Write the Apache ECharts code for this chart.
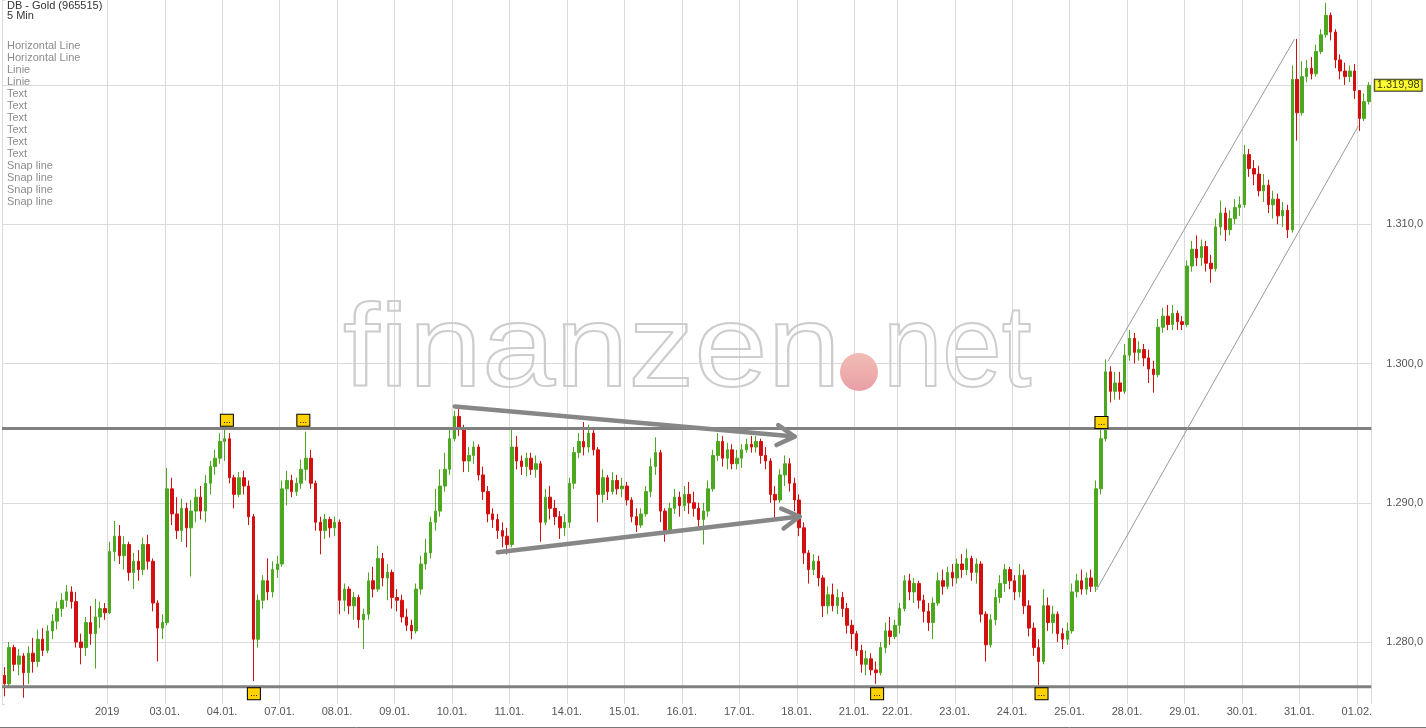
<!DOCTYPE html>
<html><head><meta charset="utf-8">
<script src="https://cdn.jsdelivr.net/npm/echarts@6.0.0/dist/echarts.min.js"></script>
<style>html,body{margin:0;padding:0;background:#fff}#c{width:1426px;height:728px}</style>
</head><body><div id="c"></div><script>
// ---- data: candles per trading day [open, close, low, high] ----
const dayLabels = ['', '2019', '03.01.', '04.01.', '07.01.', '08.01.', '09.01.', '10.01.', '11.01.', '14.01.', '15.01.', '16.01.', '17.01.', '18.01.', '21.01.', '22.01.', '23.01.', '24.01.', '25.01.', '28.01.', '29.01.', '30.01.', '31.01.', '01.02.'];

const dPre = [[1277.6,1277.0,1276.1,1278.2],[1277.0,1279.6,1276.8,1280.0],[1279.6,1278.4,1277.9,1279.8],[1278.4,1279.0,1277.6,1279.5],[1279.0,1277.8,1276.0,1279.2],[1277.8,1279.2,1277.0,1279.7],[1279.2,1278.6,1277.8,1280.3],[1278.6,1280.2,1278.2,1280.9],[1280.2,1279.4,1279.0,1281.0],[1279.4,1280.8,1279.2,1281.2],[1280.8,1281.5,1280.2,1282.0],[1281.5,1282.4,1280.9,1282.9],[1282.4,1283.0,1281.8,1283.5],[1283.0,1283.6,1282.5,1284.1],[1283.6,1282.9,1282.4,1284.0],[1282.9,1280.0,1279.6,1283.6],[1280.0,1279.6,1278.4,1280.6],[1279.6,1281.4,1279.0,1281.8],[1281.4,1280.6,1279.8,1282.6],[1280.6,1281.8,1278.1,1283.1],[1281.8,1282.4,1281.0,1282.9],[1282.4,1282.1,1281.6,1282.8]];
const d0201 = [[1282.1,1286.5,1282.0,1287.2],[1286.5,1287.6,1285.8,1288.7],[1287.6,1286.2,1285.6,1288.4],[1286.2,1287.0,1285.2,1287.6],[1287.0,1285.0,1284.4,1287.2],[1285.0,1285.8,1283.8,1286.4],[1285.8,1285.2,1284.4,1286.6],[1285.2,1287.0,1284.8,1287.5],[1287.0,1285.8,1285.2,1287.7],[1285.8,1282.8,1282.2,1286.0],[1282.8,1281.0,1278.6,1283.0],[1281.0,1281.4,1280.2,1282.0]];
const d0301 = [[1281.4,1291.0,1281.2,1292.5],[1291.0,1289.2,1288.4,1291.8],[1289.2,1288.0,1287.4,1290.4],[1288.0,1289.6,1287.2,1290.3],[1289.6,1288.2,1286.8,1290.0],[1288.2,1289.4,1284.7,1290.2],[1289.4,1290.4,1288.6,1291.0],[1290.4,1289.4,1288.8,1291.2],[1289.4,1291.4,1288.6,1292.0],[1291.4,1292.6,1290.6,1293.0],[1292.6,1293.2,1292.0,1293.8],[1293.2,1294.4,1292.8,1295.0]];
const d0401 = [[1294.4,1294.6,1293.0,1295.4],[1294.6,1291.8,1291.4,1295.0],[1291.8,1290.6,1289.6,1292.0],[1290.6,1291.8,1290.4,1292.2],[1291.8,1291.2,1290.6,1292.3],[1291.2,1289.0,1288.4,1291.6],[1289.0,1280.2,1277.2,1289.2],[1280.2,1283.0,1279.6,1283.4],[1283.0,1284.4,1282.4,1284.8],[1284.4,1283.6,1283.0,1286.0],[1283.6,1285.2,1283.2,1285.8],[1285.2,1285.6,1284.6,1286.2]];
const d0701 = [[1285.6,1291.0,1285.4,1291.6],[1291.0,1291.6,1289.8,1292.3],[1291.6,1290.8,1290.4,1292.0],[1290.8,1291.4,1290.5,1291.8],[1291.4,1292.4,1291.0,1293.1],[1292.4,1293.2,1291.6,1295.1],[1293.2,1291.4,1291.0,1293.8],[1291.4,1288.6,1288.0,1291.6],[1288.6,1288.0,1286.3,1289.0],[1288.0,1288.8,1287.4,1289.2],[1288.8,1288.2,1287.5,1289.0],[1288.2,1288.6,1287.6,1289.0]];
const d0801 = [[1288.6,1283.0,1282.0,1288.8],[1283.0,1283.8,1282.2,1284.2],[1283.8,1282.6,1282.0,1284.0],[1282.6,1283.2,1281.6,1283.6],[1283.2,1281.6,1281.0,1283.4],[1281.6,1282.0,1279.5,1282.4],[1282.0,1284.4,1281.6,1285.0],[1284.4,1283.8,1283.2,1285.4],[1283.8,1286.0,1283.6,1286.9],[1286.0,1284.6,1284.0,1286.4],[1284.6,1285.0,1283.0,1285.6],[1285.0,1283.2,1282.4,1285.2]];
const d0901 = [[1283.2,1283.0,1282.2,1283.8],[1283.0,1281.8,1281.4,1283.4],[1281.8,1281.2,1280.8,1282.4],[1281.2,1280.8,1280.2,1281.6],[1280.8,1283.8,1280.6,1284.2],[1283.8,1285.6,1283.4,1286.2],[1285.6,1286.4,1285.2,1287.4],[1286.4,1288.6,1286.0,1289.0],[1288.6,1289.4,1288.0,1291.0],[1289.4,1291.2,1289.0,1292.4],[1291.2,1292.4,1290.8,1293.6],[1292.4,1294.6,1292.0,1295.4]];
const d1001 = [[1294.6,1296.2,1294.4,1296.6],[1296.2,1295.4,1294.8,1296.9],[1295.4,1293.0,1292.2,1295.6],[1293.0,1293.4,1292.2,1294.0],[1293.4,1294.0,1292.8,1294.4],[1294.0,1292.0,1291.6,1294.2],[1292.0,1290.8,1290.2,1292.6],[1290.8,1289.2,1288.6,1291.2],[1289.2,1288.8,1288.2,1289.6],[1288.8,1288.0,1287.4,1289.2],[1288.0,1287.6,1286.8,1288.6],[1287.6,1287.0,1286.3,1288.2]];
const d1101 = [[1287.0,1294.0,1286.8,1295.3],[1294.0,1293.0,1292.4,1294.8],[1293.0,1292.6,1292.0,1293.4],[1292.6,1293.2,1291.9,1293.6],[1293.2,1292.4,1292.0,1293.6],[1292.4,1292.8,1291.8,1293.4],[1292.8,1288.6,1287.2,1293.0],[1288.6,1290.4,1288.4,1291.0],[1290.4,1289.6,1288.8,1291.2],[1289.6,1289.0,1288.4,1290.2],[1289.0,1288.2,1287.4,1289.4],[1288.2,1288.6,1287.6,1289.2]];
const d1401 = [[1288.6,1291.4,1288.2,1291.8],[1291.4,1293.6,1291.0,1294.0],[1293.6,1294.4,1293.2,1295.0],[1294.4,1294.0,1293.4,1295.8],[1294.0,1295.0,1293.6,1295.6],[1295.0,1293.8,1293.4,1295.4],[1293.8,1290.6,1288.6,1294.0],[1290.6,1291.8,1290.0,1292.4],[1291.8,1290.8,1290.2,1292.0],[1290.8,1291.6,1290.6,1292.2],[1291.6,1291.0,1290.6,1292.0],[1291.0,1291.2,1290.4,1291.8]];
const d1501 = [[1291.2,1290.2,1289.8,1291.5],[1290.2,1289.0,1288.6,1290.4],[1289.0,1288.4,1287.9,1289.6],[1288.4,1289.2,1288.2,1289.6],[1289.2,1290.8,1289.0,1291.2],[1290.8,1292.6,1290.4,1293.2],[1292.6,1293.6,1292.0,1294.7],[1293.6,1289.4,1288.6,1293.8],[1289.4,1288.0,1287.2,1289.6],[1288.0,1289.6,1287.8,1290.0],[1289.6,1290.4,1289.2,1291.0],[1290.4,1289.8,1289.0,1290.8]];
const d1601 = [[1289.8,1290.6,1289.4,1291.2],[1290.6,1290.0,1289.2,1291.5],[1290.0,1289.6,1289.0,1290.8],[1289.6,1288.8,1288.3,1290.0],[1288.8,1289.4,1287.0,1290.0],[1289.4,1291.0,1289.0,1291.6],[1291.0,1293.4,1290.8,1293.8],[1293.4,1294.4,1293.0,1295.0],[1294.4,1293.2,1292.6,1294.8],[1293.2,1293.8,1292.4,1294.3],[1293.8,1292.8,1292.4,1294.2],[1292.8,1293.2,1292.4,1293.8]];
const d1701 = [[1293.2,1293.8,1292.5,1294.2],[1293.8,1294.2,1293.6,1294.6],[1294.2,1294.0,1293.6,1294.8],[1294.0,1294.4,1293.6,1294.8],[1294.4,1293.4,1292.8,1294.6],[1293.4,1293.0,1292.4,1294.0],[1293.0,1290.6,1290.0,1293.2],[1290.6,1290.2,1288.8,1291.2],[1290.2,1292.0,1290.0,1292.4],[1292.0,1292.8,1291.2,1293.4],[1292.8,1291.4,1290.8,1293.2],[1291.4,1290.2,1289.4,1291.8]];
const d1801 = [[1290.2,1288.2,1287.6,1290.6],[1288.2,1286.4,1285.6,1288.6],[1286.4,1285.2,1284.2,1286.6],[1285.2,1285.8,1284.8,1286.3],[1285.8,1284.6,1284.0,1286.2],[1284.6,1282.6,1281.8,1284.8],[1282.6,1283.4,1282.0,1284.0],[1283.4,1282.6,1282.2,1284.2],[1282.6,1283.2,1282.0,1283.8],[1283.2,1282.4,1281.8,1283.6],[1282.4,1281.2,1280.6,1282.8],[1281.2,1280.6,1279.5,1281.6]];
const d2101 = [[1280.6,1279.4,1279.0,1280.8],[1279.4,1278.4,1277.8,1279.8],[1278.4,1278.8,1277.6,1279.4],[1278.8,1278.0,1277.6,1279.2],[1278.0,1277.8,1277.0,1278.6],[1277.8,1279.6,1277.6,1280.0],[1279.6,1280.8,1279.2,1281.4],[1280.8,1280.4,1279.8,1281.8],[1280.4,1281.2,1280.2,1281.6]];
const d2201 = [[1281.2,1282.4,1280.6,1282.8],[1282.4,1284.4,1282.2,1284.8],[1284.4,1283.6,1283.0,1284.9],[1283.6,1284.2,1282.8,1284.6],[1284.2,1283.0,1282.4,1284.4],[1283.0,1282.2,1281.4,1283.4],[1282.2,1281.4,1280.8,1282.8],[1281.4,1282.8,1280.2,1283.2],[1282.8,1284.4,1282.6,1285.0],[1284.4,1284.0,1283.4,1285.2],[1284.0,1285.0,1283.8,1285.4],[1285.0,1284.6,1284.0,1285.6]];
const d2301 = [[1284.6,1285.6,1284.2,1286.0],[1285.6,1285.2,1284.6,1286.3],[1285.2,1286.0,1284.8,1286.7],[1286.0,1285.0,1284.4,1286.2],[1285.0,1285.6,1284.2,1286.0],[1285.6,1282.0,1281.4,1285.8],[1282.0,1279.8,1278.6,1282.2],[1279.8,1281.6,1279.6,1282.0],[1281.6,1283.2,1281.2,1283.8],[1283.2,1284.2,1282.8,1284.8],[1284.2,1285.2,1283.6,1285.6],[1285.2,1284.4,1283.8,1285.4]];
const d2401 = [[1284.4,1283.6,1283.0,1284.8],[1283.6,1284.8,1283.2,1285.6],[1284.8,1282.6,1282.0,1285.2],[1282.6,1281.0,1280.4,1283.0],[1281.0,1279.6,1279.0,1281.4],[1279.6,1278.6,1276.9,1280.2],[1278.6,1282.6,1278.4,1283.8],[1282.6,1281.4,1280.8,1283.2],[1281.4,1282.0,1280.6,1282.6],[1282.0,1280.6,1280.0,1282.2],[1280.6,1280.2,1279.5,1281.0],[1280.2,1280.8,1279.8,1281.4]];
const d2501 = [[1280.8,1283.6,1280.6,1284.2],[1283.6,1284.4,1283.2,1284.9],[1284.4,1283.8,1283.4,1285.2],[1283.8,1284.6,1283.4,1285.0],[1284.6,1284.0,1283.6,1285.2],[1284.0,1291.0,1283.6,1291.6],[1291.0,1294.6,1290.6,1295.6],[1294.6,1299.4,1294.4,1300.3],[1299.4,1298.0,1297.2,1299.8],[1298.0,1298.6,1297.4,1299.4],[1298.6,1298.0,1297.4,1299.4],[1298.0,1300.6,1297.8,1301.4]];
const d2801 = [[1300.6,1301.8,1300.2,1302.4],[1301.8,1300.8,1300.0,1302.2],[1300.8,1301.0,1300.2,1301.6],[1301.0,1300.4,1299.8,1301.4],[1300.4,1299.6,1298.6,1301.0],[1299.6,1299.2,1297.9,1300.2],[1299.2,1302.6,1299.0,1303.2],[1302.6,1303.4,1302.2,1304.0],[1303.4,1302.8,1302.4,1304.2],[1302.8,1303.6,1302.4,1304.2],[1303.6,1303.0,1302.4,1303.8],[1303.0,1302.8,1302.4,1303.4]];
const d2901 = [[1302.8,1307.0,1302.6,1307.4],[1307.0,1308.2,1306.6,1308.8],[1308.2,1307.6,1307.0,1309.2],[1307.6,1308.4,1307.0,1308.9],[1308.4,1307.2,1306.6,1308.8],[1307.2,1306.8,1305.8,1307.8],[1306.8,1309.8,1306.6,1310.4],[1309.8,1310.8,1309.2,1311.7],[1310.8,1309.6,1308.8,1311.2],[1309.6,1310.4,1309.2,1311.0],[1310.4,1311.2,1310.0,1311.8],[1311.2,1311.4,1310.6,1312.0]];
const d3001 = [[1311.4,1315.0,1311.2,1315.7],[1315.0,1314.0,1313.4,1315.4],[1314.0,1313.6,1312.8,1314.6],[1313.6,1312.4,1312.0,1314.2],[1312.4,1312.8,1311.6,1313.6],[1312.8,1311.4,1310.8,1313.2],[1311.4,1311.8,1310.4,1312.4],[1311.8,1310.6,1310.0,1312.2],[1310.6,1311.0,1309.8,1311.6],[1311.0,1309.6,1309.0,1311.4],[1309.6,1320.4,1309.4,1321.4],[1320.4,1318.0,1316.0,1323.3]];
const d3101 = [[1318.0,1320.6,1317.8,1321.7],[1320.6,1321.2,1320.2,1321.8],[1321.2,1320.8,1320.4,1322.0],[1320.8,1322.4,1320.6,1322.9],[1322.4,1323.6,1322.2,1324.0],[1323.6,1325.0,1323.4,1325.9],[1325.0,1323.8,1323.2,1325.2],[1323.8,1321.8,1321.2,1324.0],[1321.8,1321.0,1320.4,1322.2],[1321.0,1320.6,1320.0,1321.6],[1320.6,1321.0,1320.2,1321.4],[1321.0,1319.6,1319.0,1321.5]];
const d0102 = [[1319.6,1317.6,1316.7,1319.6],[1317.6,1318.8,1317.4,1319.4],[1318.8,1319.98,1318.6,1320.2]];

// drawing objects, in (time slot, price)
const hLinePrices = [1295.33, 1276.78];
const arrowUpper = [94.57, 1296.91, 165.55, 1294.75];
const arrowLower = [103.55, 1286.45, 166.6, 1289.01];
const channelLower = [[228.6, 1283.75], [283.3, 1317.06]];
const channelUpper = [[230.96, 1300.14], [269.94, 1323.28]];
const markerSlots  = [46.97, 62.94, 52.61, 182.78, 217.12, 229.64];
const markerPrices = [1295.92, 1295.92, 1276.28, 1276.28, 1276.28, 1295.77];

const legendItems = ['Horizontal Line','Horizontal Line','Linie','Linie','Text','Text','Text','Text','Text','Text','Snap line','Snap line','Snap line','Snap line'];

// ---- build ----
const days = [dPre,d0201,d0301,d0401,d0701,d0801,d0901,d1001,d1101,d1401,d1501,d1601,d1701,d1801,d2101,d2201,d2301,d2401,d2501,d2801,d2901,d3001,d3101,d0102];
const categories = [], candles = [], dayStart = new Set(), labelAt = new Set();
days.forEach((d, di) => {
  dayStart.add(categories.length);
  if (dayLabels[di]) labelAt.add(categories.length);
  d.forEach((c, k) => { categories.push(dayLabels[di] + '|' + di + '|' + k); candles.push(c); });
});
const nSlots = categories.length;
const lastClose = candles[candles.length - 1][1];
function de(v, dec) {
  const s = v.toFixed(dec).split('.');
  return s[0].replace(/\B(?=(\d{3})+(?!\d))/g, '.') + ',' + s[1];
}

const FONT = '"Liberation Sans", Arial, sans-serif';
const UP = '#4ca81e', DOWN = '#d40f0f';
const chart = echarts.init(document.getElementById('c'), null, {renderer: 'canvas'});

const graphics = [
  {type:'text', x:7, y:6, style:{text:'DB - Gold (965515)', font:'11px ' + FONT, fill:'#333', verticalAlign:'middle', textVerticalAlign:'middle'}, z:100},
  {type:'text', x:7, y:16, style:{text:'5 Min', font:'11px ' + FONT, fill:'#333', verticalAlign:'middle', textVerticalAlign:'middle'}, z:100},
  {type:'text', x:343, y:354, scaleX:1.135, style:{text:'finanzen', font:'116px ' + FONT, fill:'rgba(255,255,255,0)', stroke:'#cdcdcd', lineWidth:2, verticalAlign:'middle', textVerticalAlign:'middle'}, z:1},
  {type:'circle', shape:{cx:859, cy:372, r:19}, style:{fill:new echarts.graphic.LinearGradient(0,0,0,1,[{offset:0,color:'#f1bdb6'},{offset:0.5,color:'#eeaeac'},{offset:1,color:'#e89fa6'}])}, z:1},
  {type:'text', x:883, y:354, scaleX:0.92, style:{text:'net', font:'116px ' + FONT, fill:'rgba(255,255,255,0)', stroke:'#cdcdcd', lineWidth:2, verticalAlign:'middle', textVerticalAlign:'middle'}, z:1},
  {type:'line', shape:{x1:0, y1:727.5, x2:1426, y2:727.5}, style:{stroke:'#777', lineWidth:1}, z:100}
];
legendItems.forEach((t, i) => graphics.push({type:'text', x:7, y:45.5 + 12 * i, style:{text:t, font:'11px ' + FONT, fill:'#8c8c8c', verticalAlign:'middle', textVerticalAlign:'middle'}, z:100}));

const lineSeries = (data, color, width) => ({type:'line', xAxisIndex:1, yAxisIndex:0, data, showSymbol:false, symbol:'none', silent:true, lineStyle:{color, width}, z:5, clip:false});

chart.setOption({
  animation: false,
  backgroundColor: '#fff',
  grid: {left:2, right:54, top:0, bottom:24, containLabel:false},
  graphic: graphics,
  xAxis: [
    {type:'category', data:categories, boundaryGap:true,
     axisLine:{show:false}, axisTick:{show:false},
     splitLine:{show:true, interval:(i) => dayStart.has(i), lineStyle:{color:'#dadada', width:1}},
     axisLabel:{interval:(i) => labelAt.has(i), formatter:(v) => v.split('|')[0], color:'#555', fontSize:11, fontFamily:FONT, margin:2, padding:[0,5,0,0]}},
    {type:'value', min:0, max:nSlots, show:false}
  ],
  yAxis: [{type:'value', position:'right', min:1275.55, max:1326.1, splitNumber:5,
    axisLine:{show:false},
    axisTick:{show:true, length:3, lineStyle:{color:'#dadada'}},
    splitLine:{show:true, showMinLine:false, showMaxLine:false, lineStyle:{color:'#dadada'}},
    axisLabel:{margin:15, color:'#555', fontSize:11, fontFamily:FONT,
      formatter:(v) => { const r = Math.round(v * 10) / 10; if (Math.abs(r % 10) > 0.01 || r === 1320) return ''; return de(r, 1); }}
  }],
  series: [
    {type:'candlestick', xAxisIndex:0, yAxisIndex:0, data:candles, barWidth:3, z:3,
     itemStyle:{color:UP, color0:DOWN, borderColor:UP, borderColor0:DOWN, borderWidth:1}},
    lineSeries([[0, hLinePrices[0]], [nSlots, hLinePrices[0]]], '#808080', 3),
    lineSeries([[0, hLinePrices[1]], [nSlots, hLinePrices[1]]], '#808080', 3),
    lineSeries(channelLower, '#9a9a9a', 1),
    lineSeries(channelUpper, '#9a9a9a', 1),
    {type:'custom', xAxisIndex:1, yAxisIndex:0, data:[arrowUpper, arrowLower], z:6, silent:true, clip:false,
     encode:{x:[0,2], y:[1,3]},
     renderItem:(params, api) => {
       const p1 = api.coord([api.value(0), api.value(1)]);
       const p2 = api.coord([api.value(2), api.value(3)]);
       const ang = Math.atan2(p2[1] - p1[1], p2[0] - p1[0]);
       const L = 20, a = Math.PI / 6;
       const h1 = [p2[0] - L * Math.cos(ang - a), p2[1] - L * Math.sin(ang - a)];
       const h2 = [p2[0] - L * Math.cos(ang + a), p2[1] - L * Math.sin(ang + a)];
       const style = {stroke:'#878787', lineWidth:4.5, fill:null, lineCap:'round', lineJoin:'round'};
       return {type:'group', children:[
         {type:'line', shape:{x1:p1[0], y1:p1[1], x2:p2[0], y2:p2[1]}, style},
         {type:'polyline', shape:{points:[h1, p2, h2]}, style}
       ]};
     }},
    {type:'scatter', xAxisIndex:1, yAxisIndex:0, z:8, silent:true,
     data: markerSlots.map((s, i) => [s, markerPrices[i]]),
     symbol:'rect', symbolSize:[13, 12],
     itemStyle:{color:'#ffd200', borderColor:'#000', borderWidth:1, opacity:1},
     label:{show:true, position:'inside', formatter:'...', color:'#000', fontSize:9, fontFamily:FONT, offset:[0, 0]}},
    {type:'scatter', xAxisIndex:1, yAxisIndex:0, z:9, silent:true, clip:false,
     data:[[nSlots, lastClose]], symbol:'rect', symbolSize:1, itemStyle:{color:'rgba(0,0,0,0)'},
     label:{show:true, position:'right', distance:3, formatter:() => de(lastClose, 2), color:'#000', fontSize:11, fontFamily:FONT,
            backgroundColor:'#ffff00', borderColor:'#000', borderWidth:1, padding:[0,2,0,2], lineHeight:11}}
  ]
});
</script></body></html>
